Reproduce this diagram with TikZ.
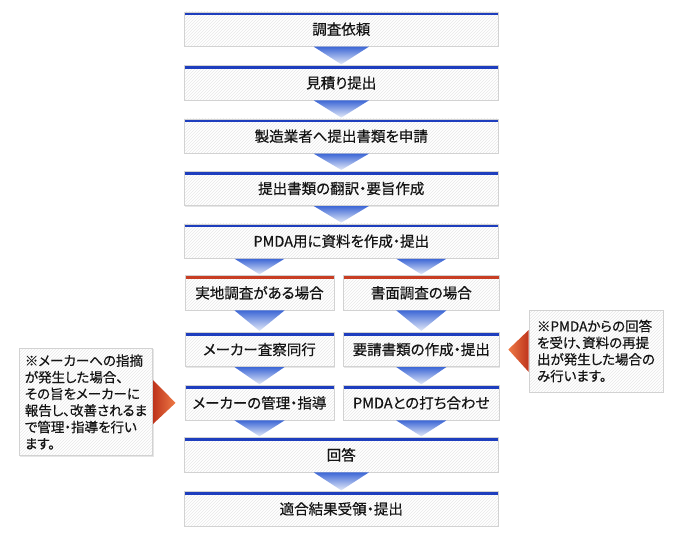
\documentclass[tikz,border=0pt]{standalone}
\usepackage{fontspec}
\setmainfont{Noto Sans CJK JP}[CharacterWidth=AlternateProportional,FakeBold=0.5]
\usepackage{tikz}
\usetikzlibrary{patterns,shadows,calc}
\definecolor{barblue}{RGB}{30,62,190}
\definecolor{barred}{RGB}{200,62,36}
\definecolor{flowblue}{RGB}{62,104,214}
\definecolor{flowpale}{RGB}{228,234,248}
\definecolor{notered}{RGB}{190,52,28}
\definecolor{noteorange}{RGB}{238,122,70}
\definecolor{ink}{RGB}{20,20,20}
\tikzstyle{stepbox}=[rectangle,draw=gray!35,line width=.6pt,inner sep=0pt,minimum height=34.5pt,text=ink,font=\fontsize{14.5}{16}\selectfont,drop shadow={shadow xshift=.8pt,shadow yshift=-.8pt,opacity=.2},preaction={fill=white},pattern=north east lines,pattern color=gray!18]
\tikzstyle{bluebar}=[path picture={\fill[barblue] (path picture bounding box.north west) rectangle ([yshift=-3.5pt]path picture bounding box.north east);}]
\tikzstyle{redbar}=[path picture={\fill[barred] (path picture bounding box.north west) rectangle ([yshift=-3.5pt]path picture bounding box.north east);}]
\tikzstyle{note}=[rectangle,draw=gray!35,line width=.6pt,inner sep=0pt,text=ink,align=left,font=\fontsize{13.5}{16.6}\selectfont,drop shadow={shadow xshift=.8pt,shadow yshift=-.8pt,opacity=.2},preaction={fill=white},pattern=north east lines,pattern color=gray!18]
\tikzstyle{flow}=[top color=flowblue,bottom color=flowpale]
\tikzstyle{pointL}=[left color=notered,right color=noteorange]
\tikzstyle{pointR}=[left color=noteorange,right color=notered]

\begin{document}
\begin{tikzpicture}[x=1pt,y=-1pt]
        \useasboundingbox (0,0) rectangle (687,540);
        % main column
        \node[stepbox,bluebar,minimum width=313.3pt] (irai) at (341.3,29.2) {調査依頼};
        \node[stepbox,bluebar,minimum width=313.3pt] (mitsumori) at (341.3,82.9) {見積り提出};
        \node[stepbox,bluebar,minimum width=313.3pt] (shinsei) at (341.3,136.2) {製造業者へ提出書類を申請};
        \node[stepbox,bluebar,minimum width=313.3pt] (honyaku) at (341.3,188.5) {提出書類の翻訳・要旨作成};
        \node[stepbox,bluebar,minimum width=313.3pt] (shiryo) at (341.3,241.2) {PMDA用に資料を作成・提出};
        % two branches
        \node[stepbox,redbar,minimum width=149.3pt] (jitchi) at (259.5,292.9) {実地調査がある場合};
        \node[stepbox,redbar,minimum width=155.4pt] (shomen) at (421.3,292.9) {書面調査の場合};
        \node[stepbox,bluebar,minimum width=149.3pt] (sasatsu) at (259.5,349.5) {メーカー査察同行};
        \node[stepbox,bluebar,minimum width=155.4pt] (yosei) at (421.3,349.5) {要請書類の作成・提出};
        \node[stepbox,bluebar,minimum width=149.3pt] (kanri) at (259.5,402.9) {メーカーの管理・指導};
        \node[stepbox,bluebar,minimum width=155.4pt] (uchiawase) at (421.3,402.9) {PMDAとの打ち合わせ};
        \node[stepbox,bluebar,minimum width=313.3pt] (kaito) at (341.3,454.9) {回答};
        \node[stepbox,bluebar,minimum width=313.3pt] (kekka) at (341.3,508.9) {適合結果受領・提出};
        % notes
        \node[note,minimum width=133.4pt,minimum height=107.4pt] (chuL) at (86,402) {※メーカーへの指摘\\が発生した場合、\\その旨をメーカーに\\報告し、改善されるま\\で管理・指導を行い\\ます。};
        \node[note,minimum width=134pt,minimum height=82pt] (chuR) at (596,351) {※PMDAからの回答\\を受け、資料の再提\\出が発生した場合の\\み行います。};
        % arrows
        \shade[flow] ($(irai.south)+(-27.5,0)$) -- ($(irai.south)+(27.5,0)$) -- ($(mitsumori.north)+(0,-1)$) -- cycle;
        \shade[flow] ($(mitsumori.south)+(-27.5,0)$) -- ($(mitsumori.south)+(27.5,0)$) -- ($(shinsei.north)+(0,-1)$) -- cycle;
        \shade[flow] ($(shinsei.south)+(-27.5,0)$) -- ($(shinsei.south)+(27.5,0)$) -- ($(honyaku.north)+(0,-1)$) -- cycle;
        \shade[flow] ($(honyaku.south)+(-27.5,0)$) -- ($(honyaku.south)+(27.5,0)$) -- ($(shiryo.north)+(0,-1)$) -- cycle;
        \shade[flow] ($(jitchi.north |- shiryo.south)+(-25,0)$) -- ($(jitchi.north |- shiryo.south)+(25,0)$) -- ($(jitchi.north)+(0,-1)$) -- cycle;
        \shade[flow] ($(shomen.north |- shiryo.south)+(-25,0)$) -- ($(shomen.north |- shiryo.south)+(25,0)$) -- ($(shomen.north)+(0,-1)$) -- cycle;
        \shade[flow] ($(jitchi.south)+(-25,0)$) -- ($(jitchi.south)+(25,0)$) -- ($(sasatsu.north)+(0,-1)$) -- cycle;
        \shade[flow] ($(shomen.south)+(-25,0)$) -- ($(shomen.south)+(25,0)$) -- ($(yosei.north)+(0,-1)$) -- cycle;
        \shade[flow] ($(sasatsu.south)+(-25,0)$) -- ($(sasatsu.south)+(25,0)$) -- ($(kanri.north)+(0,-1)$) -- cycle;
        \shade[flow] ($(yosei.south)+(-25,0)$) -- ($(yosei.south)+(25,0)$) -- ($(uchiawase.north)+(0,-1)$) -- cycle;
        \shade[flow] ($(kanri.south)+(-25,0)$) -- ($(kanri.south)+(25,0)$) -- ($(kanri.south |- kaito.north)+(0,-1)$) -- cycle;
        \shade[flow] ($(uchiawase.south)+(-25,0)$) -- ($(uchiawase.south)+(25,0)$) -- ($(uchiawase.south |- kaito.north)+(0,-1)$) -- cycle;
        \shade[flow] ($(kaito.south)+(-27.5,0)$) -- ($(kaito.south)+(27.5,0)$) -- ($(kekka.north)+(0,-1)$) -- cycle;
        % note pointers
        \shade[pointL] ($(chuL.east)+(0,-22)$) -- ($(chuL.east)+(0,22)$) -- ($(kanri.west)+(-9,0)$) -- cycle;
        \shade[pointR] ($(chuR.west)+(0,-21)$) -- ($(chuR.west)+(0,21)$) -- ($(yosei.east)+(9,0)$) -- cycle;
      \end{tikzpicture}
\end{document}
